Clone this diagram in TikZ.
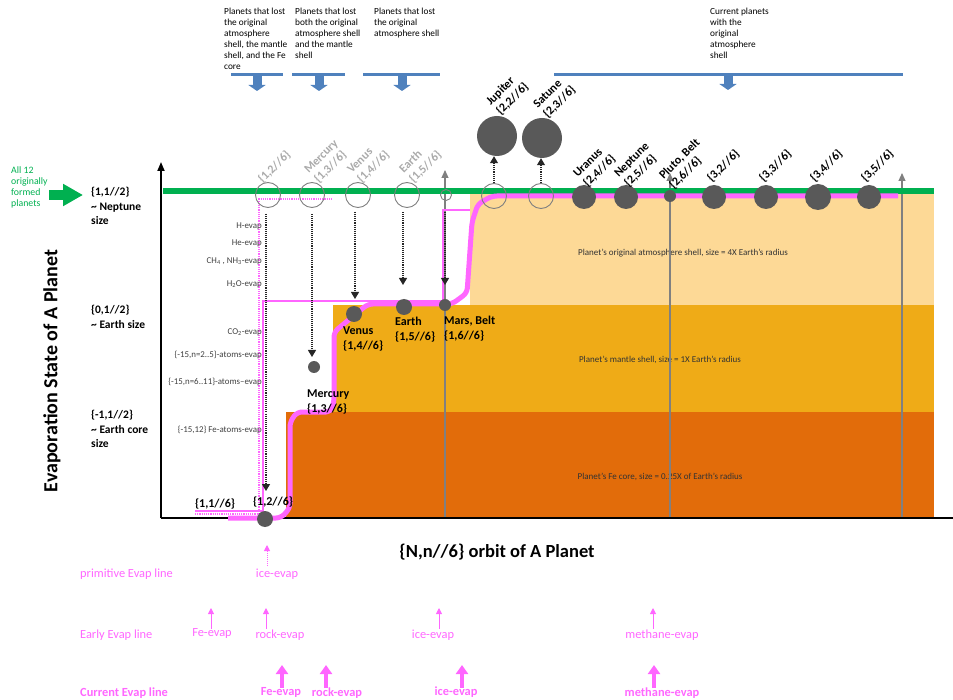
\documentclass[tikz,border=0pt]{standalone}
\usepackage{fontspec}
\setmainfont{Carlito}
\usetikzlibrary{arrows.meta}
\definecolor{grn}{RGB}{0,176,80}
\definecolor{atm}{RGB}{253,217,150}
\definecolor{mant}{RGB}{239,171,23}
\definecolor{corec}{RGB}{226,108,10}
\definecolor{pinkc}{RGB}{255,102,255}
\definecolor{blu}{RGB}{79,129,189}
\definecolor{pgray}{RGB}{89,89,89}
\definecolor{hgray}{RGB}{128,128,128}
\definecolor{lgray}{RGB}{170,170,170}
\definecolor{tgray}{RGB}{64,64,64}
\begin{document}
\begin{tikzpicture}[x=1pt,y=-1pt,
  toplab/.style={anchor=north west, align=left, inner sep=0, font=\fontsize{9.3}{10.9}\selectfont},
  axlab/.style={anchor=north west, align=left, inner sep=0, font=\fontsize{11.5}{14.5}\selectfont\bfseries},
  evlab/.style={anchor=east, inner sep=0, text=tgray, font=\fontsize{8.9}{10}\selectfont},
  bandlab/.style={inner sep=0, text=black!80, font=\fontsize{9}{10}\selectfont},
  dotlab/.style={anchor=north west, align=left, inner sep=0, font=\fontsize{12}{14.5}\selectfont\bfseries},
  rlab/.style={rotate=45, anchor=south west, align=left, inner sep=0.5pt, font=\fontsize{12}{14}\selectfont\bfseries},
  glab/.style={rlab, text=lgray},
  hollow/.style={circle, draw=hgray, line width=0.9pt, inner sep=0, minimum size=#1},
  hollow/.default=25pt,
  planet/.style={circle, fill=pgray, inner sep=0, minimum size=#1},
  dotarrow/.style={draw=black!85, densely dotted, line width=1.1pt, -{Triangle[length=7pt,width=8pt]}},
  gline/.style={draw=hgray, line width=1.1pt, -{Triangle[length=8pt,width=7pt]}},
  bluebar/.style={draw=blu, line width=3pt},
  bluearrow/.style={draw=blu, line width=9pt, -{Triangle[length=6pt,width=17pt]}},
  pktext/.style={text=pinkc, inner sep=0, font=\fontsize{12.4}{13}\selectfont},
  pkbold/.style={text=pinkc, inner sep=0, font=\fontsize{12.4}{13}\selectfont\bfseries},
  pkthin/.style={draw=pinkc, line width=0.9pt, -{Triangle[length=6pt,width=6pt]}},
  pkdot/.style={draw=pinkc, densely dotted, line width=1pt, -{Triangle[length=6pt,width=6pt]}},
  pkthick/.style={draw=pinkc, line width=4pt, -{Triangle[length=9pt,width=12pt]}}
]
\useasboundingbox (0,0) rectangle (953,700);

% bands
\fill[atm] (470,193) rectangle (934,305);
\fill[mant] (333,305) rectangle (934,412);
\fill[corec] (286,412) rectangle (934,517);
\node[bandlab] (batm) at (683,253) {Planet’s original atmosphere shell, size = 4X Earth’s radius};
\node[bandlab] (bmant) at (660,360) {Planet’s mantle shell, size = 1X Earth’s radius};
\node[bandlab] (bcore) at (660,477) {Planet’s Fe core, size = 0.25X of Earth’s radius};

% gray verticals
\coordinate (g1b) at (445,518); \coordinate (g1t) at (445,170);
\coordinate (g2b) at (670,518); \coordinate (g2t) at (670,173);
\coordinate (g3b) at (902,518); \coordinate (g3t) at (902,173);
\draw[gline] (g1b) -- (g1t);
\draw[gline] (g2b) -- (g2t);
\draw[gline] (g3b) -- (g3t);

% axes
\coordinate (origin) at (161,518);
\coordinate (ytop) at (161,162);
\coordinate (xend) at (953,518);
\draw[line width=1.8pt, -{Triangle[length=9pt,width=7pt]}] (origin) -- (ytop);
\draw[line width=1.8pt] (origin) -- (xend);

% green line
\draw[grn, line width=6pt] (163,191) -- (934,191);

% thin pink lines
\draw[draw=pinkc, line width=1.2pt] (195,511) -- (263,511) -- (263,301) -- (443,301) -- (443,210) -- (470,210);
\draw[draw=pinkc, densely dotted, line width=1.2pt] (195,514) -- (259,514) -- (259,199) -- (332,199);

% thick pink line
\draw[draw=pinkc, line width=5pt, rounded corners=5pt, line join=round]
  (228,518) -- (281,518) -- (290,508) -- (290,422) -- (297,412) -- (331,412) -- (334,402)
  -- (334,332) -- (368,304) -- (452,304) -- (467,293) -- (472,222) -- (478,204) -- (492,196) -- (898,196);

% hollow circles on green line
\node[hollow] (h12) at (268,195) {};
\node[hollow] (h13) at (312,195) {};
\node[hollow] (h14) at (358,195) {};
\node[hollow] (h15) at (407,195) {};
\node[hollow=11pt] (h16) at (446,195) {};
\node[hollow] (h22) at (494,196) {};
\node[hollow] (h23) at (541,196) {};

% filled planets
\node[planet=40pt] (jup) at (497,136) {};
\node[planet=40pt] (sat) at (542,138) {};
\node[planet=24pt] (p24) at (584,197) {};
\node[planet=24pt] (p25) at (626,197) {};
\node[planet=12pt] (p26) at (670,196) {};
\node[planet=24pt] (p32) at (714,197) {};
\node[planet=24pt] (p33) at (766,197) {};
\node[planet=26pt] (p34) at (818,197) {};
\node[planet=24pt] (p35) at (869,197) {};

\node[planet=16pt] (d12) at (265,519) {};
\node[planet=12pt] (d13) at (314,367) {};
\node[planet=16pt] (d14) at (354,314) {};
\node[planet=16pt] (d15) at (404,307) {};
\node[planet=12pt] (d16) at (445,305) {};

% dotted arrows
\coordinate (a12s) at (266,214); \coordinate (a12e) at (266,491);
\coordinate (a13s) at (312,214); \coordinate (a13e) at (312,357);
\coordinate (a14s) at (355,212); \coordinate (a14e) at (355,299);
\coordinate (a15s) at (403,212); \coordinate (a15e) at (403,285);
\coordinate (a16s) at (445,212); \coordinate (a16e) at (445,285);
\draw[dotarrow] (a12s) -- (a12e);
\draw[dotarrow] (a13s) -- (a13e);
\draw[dotarrow] (a14s) -- (a14e);
\draw[dotarrow] (a15s) -- (a15e);
\draw[dotarrow] (a16s) -- (a16e);
\draw[dotarrow] (h22.north) -- (h22.north |- jup.south);
\draw[dotarrow] (h23.north) -- (h23.north |- sat.south);

% rotated labels
\node[glab] (l12) at (264,186) {\{1,2//6\}};
\node[glab] (l13) at (320,186) {Mercury\\\{1,3//6\}};
\node[glab] (l14) at (363,186) {Venus\\\{1,4//6\}};
\node[glab] (l15) at (415,186) {Earth\\\{1,5//6\}};
\node[rlab] (l22) at (502,118) {Jupiter\\\{2,2//6\}};
\node[rlab] (l23) at (549,121) {Satune\\\{2,3//6\}};
\node[rlab] (l24) at (589,190) {Uranus\\\{2,4//6\}};
\node[rlab] (l25) at (630,190) {Neptune\\\{2,5//6\}};
\node[rlab] (l26) at (675,192) {Pluto, Belt\\\{2,6//6\}};
\node[rlab] (l32) at (713,185) {\{3,2//6\}};
\node[rlab] (l33) at (765,185) {\{3,3//6\}};
\node[rlab] (l34) at (816,185) {\{3,4//6\}};
\node[rlab] (l35) at (867,185) {\{3,5//6\}};

% dot labels
\node[dotlab, anchor=center] (t11) at (215,504) {\{1,1//6\}};
\node[dotlab, anchor=center] (t12) at (273,502) {\{1,2//6\}};
\node[dotlab] (t13) at (307,390) {Mercury\\\{1,3//6\}};
\node[dotlab] (t14) at (343,327) {Venus\\\{1,4//6\}};
\node[dotlab] (t15) at (395,317) {Earth\\\{1,5//6\}};
\node[dotlab] (t16) at (444,316) {Mars, Belt\\\{1,6//6\}};

% evap labels
\node[evlab] (e1) at (262,226) {H-evap};
\node[evlab] (e2) at (262,243) {He-evap};
\node[evlab] (e3) at (262,261) {CH\textsubscript{4} , NH\textsubscript{3}-evap};
\node[evlab] (e4) at (262,284) {H\textsubscript{2}O-evap};
\node[evlab] (e5) at (262,332) {CO\textsubscript{2}-evap};
\node[evlab] (e6) at (262,355) {\{-15,n=2..5\}-atoms-evap};
\node[evlab] (e7) at (262,382) {\{-15,n=6..11\}-atoms--evap};
\node[evlab] (e8) at (262,430) {\{-15,12\} Fe-atoms-evap};

% y-axis labels
\node[axlab] (y1) at (91,187) {\{1,1//2\}\\\textasciitilde{} Neptune\\size};
\node[axlab] (y2) at (91,305) {\{0,1//2\}\\\textasciitilde{} Earth size};
\node[axlab] (y3) at (91,410) {\{-1,1//2\}\\\textasciitilde{} Earth core\\size};

% axis titles
\node[rotate=90, inner sep=0, font=\fontsize{20}{22}\selectfont\bfseries] (ytitle) at (52,371) {Evaporation State of A Planet};
\node[inner sep=0, font=\fontsize{18.5}{20}\selectfont\bfseries] (xtitle) at (497,552) {\{N,n//6\} orbit of A Planet};

% green legend
\node[anchor=north west, align=left, inner sep=0, text=grn, font=\fontsize{9.8}{11}\selectfont] (all12) at (11,166) {All 12\\originally\\formed\\planets};
\draw[grn, line width=10pt, shorten >=8pt, -{Triangle[length=20pt,width=21pt]}] (49,195) -- (y1.west |- 0,195);

% top labels and blue arrows
\node[toplab] (tl1) at (224,8) {Planets that lost\\the original\\atmosphere\\shell, the mantle\\shell, and the Fe\\core};
\node[toplab] (tl2) at (295,8) {Planets that lost\\both the original\\atmosphere shell\\and the mantle\\shell};
\node[toplab] (tl3) at (374,8) {Planets that lost\\the original\\atmosphere shell};
\node[toplab] (tl4) at (710,8) {Current planets\\with the\\original\\atmosphere\\shell};
\draw[bluebar] (231,75) -- (283,75);
\draw[bluebar] (292,75) -- (345,75);
\draw[bluebar] (363,75) -- (440,75);
\draw[bluebar] (554,75) -- (903,75);
\coordinate (b1) at (257,75); \coordinate (b2) at (319,75); \coordinate (b3) at (402,75); \coordinate (b4) at (728,75);
\draw[bluearrow] (b1) -- ++(0,16);
\draw[bluearrow] (b2) -- ++(0,16);
\draw[bluearrow] (b3) -- ++(0,16);
\draw[bluearrow] (b4) -- ++(0,15);

% bottom pink legend
\node[pktext, anchor=west] (r1) at (80,574) {primitive Evap line};
\node[pktext] (r1a) at (277,574) {ice-evap};
\draw[pkdot] (267,566) -- (267,545);

\node[pktext, anchor=west] (r2) at (80,635) {Early Evap line};
\node[pktext] (r2a) at (212,634) {Fe-evap};
\node[pktext] (r2b) at (280,635) {rock-evap};
\node[pktext] (r2c) at (433,635) {ice-evap};
\node[pktext] (r2d) at (662,635) {methane-evap};
\draw[pkthin] (211,629) -- (211,608);
\draw[pkthin] (266,629) -- (266,608);
\draw[pkthin] (439,629) -- (439,608);
\draw[pkthin] (653,629) -- (653,608);

\node[pkbold, anchor=west] (r3) at (80,693) {Current Evap line};
\node[pkbold] (r3a) at (281,692) {Fe-evap};
\node[pkbold] (r3b) at (337,693) {rock-evap};
\node[pkbold] (r3c) at (456,692) {ice-evap};
\node[pkbold] (r3d) at (662,693) {methane-evap};
\draw[pkthick] (282,688) -- (282,665);
\draw[pkthick] (326,688) -- (326,665);
\draw[pkthick] (462,688) -- (462,665);
\draw[pkthick] (654,688) -- (654,665);
\end{tikzpicture}
\end{document}
